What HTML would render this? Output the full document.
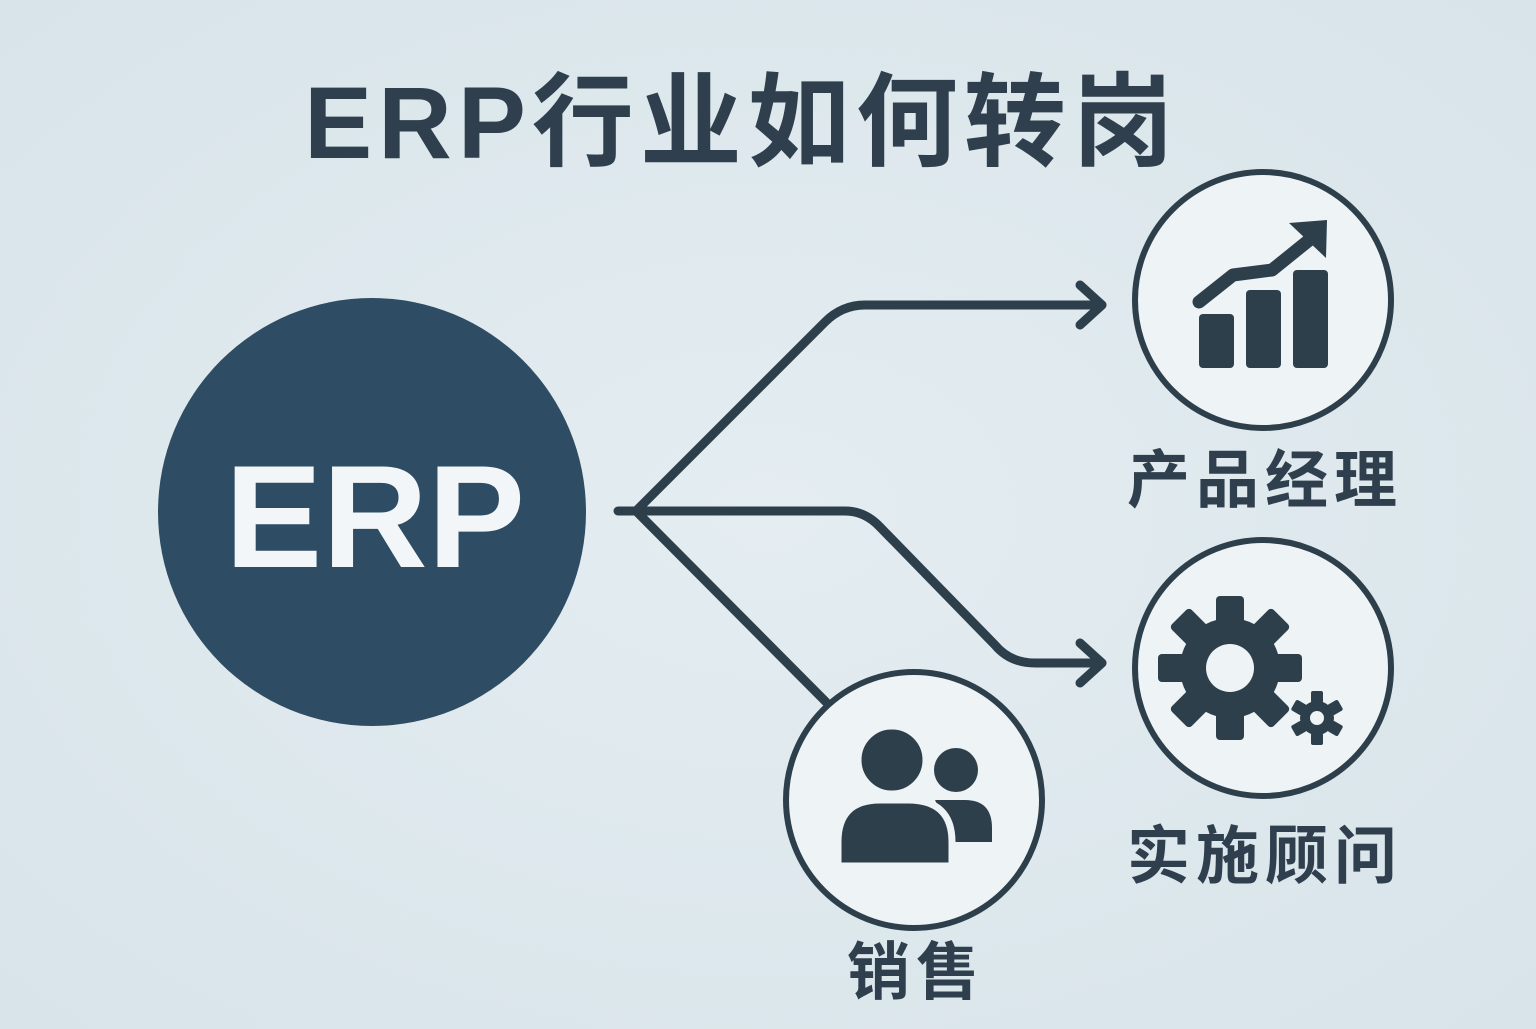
<!DOCTYPE html>
<html><head><meta charset="utf-8"><style>
html,body{margin:0;padding:0}
body{width:1536px;height:1024px;overflow:hidden;background:radial-gradient(ellipse at 50% 50%,#e4edf1,#d8e4ea);font-family:"Liberation Sans","Noto Sans CJK SC",sans-serif}
</style></head><body>
<svg width="1536" height="1024" viewBox="0 0 1536 1024" xmlns="http://www.w3.org/2000/svg">
<text x="742" y="158" text-anchor="middle" font-family="Liberation Sans, Noto Sans CJK SC, sans-serif" font-weight="bold" font-size="102" fill="#2f3f4d" letter-spacing="6">ERP行业如何转岗</text>
<circle cx="372" cy="512" r="214" fill="#2e4c63"/>
<text x="375" y="567" text-anchor="middle" font-family="Liberation Sans, sans-serif" font-weight="bold" font-size="146" fill="#f3f6f8">ERP</text>
<g fill="none" stroke="#2e3f4c" stroke-width="9" stroke-linecap="round" stroke-linejoin="round">
<path d="M618 511 H636"/>
<path d="M636 511 L825 322 Q842 305 865 305 H1102"/>
<path d="M1080 285 L1102 305 L1080 325"/>
<path d="M636 511 H845 Q865 511 880 527 L995 645 Q1010 663 1035 663 H1102"/>
<path d="M1080 643 L1102 663 L1080 683"/>
<path d="M636 511 L826 702"/>
</g>
<g fill="#eef3f5" stroke="#2e3f4c" stroke-width="6">
<circle cx="1263" cy="300" r="128"/>
<circle cx="1263" cy="668" r="128"/>
<circle cx="914" cy="800" r="128"/>
</g>
<g fill="#2e3f4c">
<rect x="1199" y="314" width="35" height="54" rx="4"/>
<rect x="1246" y="290" width="35" height="78" rx="4"/>
<rect x="1293" y="270" width="35" height="98" rx="4"/>
<path d="M1289 223 L1327 220 L1326 258 Z"/>
</g>
<path d="M1199 302 L1233 275 L1272 270 L1313 237" fill="none" stroke="#2e3f4c" stroke-width="13" stroke-linecap="round" stroke-linejoin="round"/>
<g fill="#2e3f4c">
<circle cx="1230" cy="668" r="50"/>
<g>
<rect x="1216" y="596" width="28" height="30" rx="4"/>
<rect x="1216" y="596" width="28" height="30" rx="4" transform="rotate(45 1230 668)"/>
<rect x="1216" y="596" width="28" height="30" rx="4" transform="rotate(90 1230 668)"/>
<rect x="1216" y="596" width="28" height="30" rx="4" transform="rotate(135 1230 668)"/>
<rect x="1216" y="596" width="28" height="30" rx="4" transform="rotate(180 1230 668)"/>
<rect x="1216" y="596" width="28" height="30" rx="4" transform="rotate(225 1230 668)"/>
<rect x="1216" y="596" width="28" height="30" rx="4" transform="rotate(270 1230 668)"/>
<rect x="1216" y="596" width="28" height="30" rx="4" transform="rotate(315 1230 668)"/>
</g>
<circle cx="1317" cy="718" r="17"/>
<g>
<rect x="1311" y="691" width="12" height="12" rx="2"/>
<rect x="1311" y="691" width="12" height="12" rx="2" transform="rotate(60 1317 718)"/>
<rect x="1311" y="691" width="12" height="12" rx="2" transform="rotate(120 1317 718)"/>
<rect x="1311" y="691" width="12" height="12" rx="2" transform="rotate(180 1317 718)"/>
<rect x="1311" y="691" width="12" height="12" rx="2" transform="rotate(240 1317 718)"/>
<rect x="1311" y="691" width="12" height="12" rx="2" transform="rotate(300 1317 718)"/>
</g>
</g>
<circle cx="1230" cy="668" r="24" fill="#eef3f5"/>
<circle cx="1317" cy="718" r="7" fill="#eef3f5"/>
<g fill="#2e3f4c">
<circle cx="956" cy="770" r="22"/>
<path d="M935 800 H965 Q992 800 992 828 V842 H955 Z"/>
</g>
<g fill="#2e3f4c" stroke="#eef3f5" stroke-width="7">
<circle cx="892" cy="760" r="34"/>
<path d="M838 866 V842 Q838 800 880 800 H908 Q952 800 952 842 V866 Z"/>
</g>
<g font-family="Liberation Sans, Noto Sans CJK SC, sans-serif" font-weight="bold" fill="#2f3f4d" font-size="63" text-anchor="middle">
<text x="1265" y="502" letter-spacing="6">产品经理</text>
<text x="1265" y="878" letter-spacing="6">实施顾问</text>
<text x="916" y="994" letter-spacing="6">销售</text>
</g>
</svg>
</body></html>
